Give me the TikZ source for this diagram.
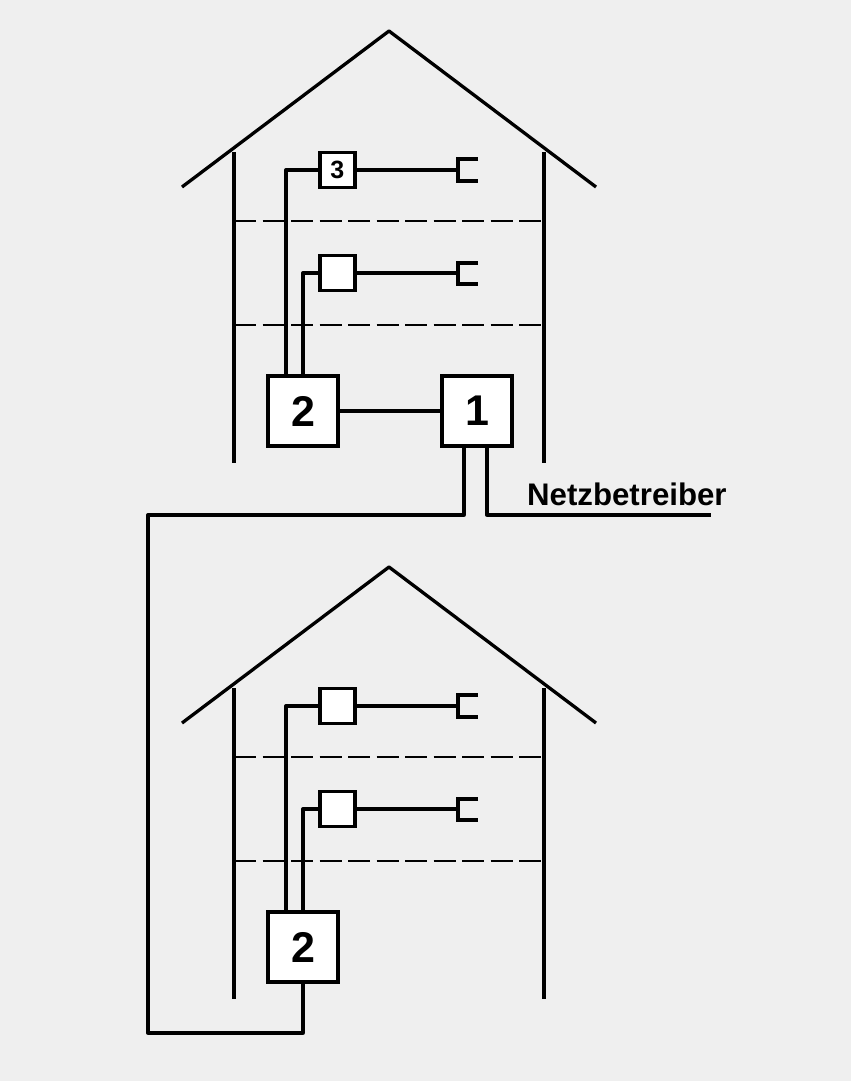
\documentclass[tikz,border=0pt]{standalone}
\usepackage{fontspec}
\setmainfont{Liberation Sans}
\definecolor{bgc}{HTML}{EFEFEF}
\begin{document}
\begin{tikzpicture}[x=1pt,y=-1pt,
  wire/.style={draw=black,line width=3.3pt,line cap=butt,line join=round},
  floorline/.style={draw=black,line width=2.8pt,dash pattern=on 22pt off 6.5pt},
  boxbase/.style={draw=black,fill=white,line width=3.6pt,inner sep=0pt},
  bigbox/.style={boxbase,minimum size=69.5pt,font=\fontsize{43}{43}\selectfont\bfseries},
  smallbox/.style={boxbase,minimum size=35pt,font=\fontsize{25}{25}\selectfont\bfseries},
  label/.style={inner sep=0pt,anchor=base west,font=\fontsize{31.2}{31.2}\selectfont\bfseries}]
\useasboundingbox[fill=bgc] (0,0) rectangle (851,1081);
\foreach \dy in {0,536}{
  \draw[wire] (182,187+\dy) -- (389,31+\dy) -- (596,187+\dy);
  \draw[wire] (234,152+\dy) -- (234,463+\dy);
  \draw[wire] (544,152+\dy) -- (544,463+\dy);
  \draw[floorline] (234,221+\dy) -- (544,221+\dy);
  \draw[floorline] (234,325+\dy) -- (544,325+\dy);
}
\node[bigbox] (amain) at (303,411) {2};
\node[bigbox] (bmain) at (303,947) {2};
\node[bigbox] (hub) at (477,411) {1};
\node[smallbox] (aup) at (337.3,170) {3};
\node[smallbox] (alo) at (337.3,273) {};
\node[smallbox] (bup) at (337.3,706) {};
\node[smallbox] (blo) at (337.3,809) {};
\coordinate (awA) at (286,377);
\coordinate (awB) at (303,377);
\coordinate (bwA) at (286,913);
\coordinate (bwB) at (303,913);
\draw[wire] (awA) |- (aup.west);
\draw[wire] (awB) |- (alo.west);
\draw[wire] (bwA) |- (bup.west);
\draw[wire] (bwB) |- (blo.west);
\draw[wire] (amain) -- (hub);
\foreach \p/\u/\l/\dy in {a/aup/alo/0,b/bup/blo/536}{
  \coordinate (\p Am) at (458,170+\dy);
  \coordinate (\p Bm) at (458,273+\dy);
  \draw[wire] (\u.east) -- (\p Am);
  \draw[wire] (\l.east) -- (\p Bm);
  \draw[wire,line join=miter] (478,159+\dy) -- (458,159+\dy) -- (458,181+\dy) -- (478,181+\dy);
  \draw[wire,line join=miter] (478,263+\dy) -- (458,263+\dy) -- (458,284+\dy) -- (478,284+\dy);
}
\coordinate (hubL) at (464,445);
\coordinate (hubR) at (487,445);
\coordinate (leftTop) at (148,515);
\coordinate (leftBot) at (148,1033);
\coordinate (netEnd) at (711,515);
\draw[wire] (hubL) |- (leftTop) -- (leftBot) -| (bmain.south);
\draw[wire] (hubR) |- (netEnd);
\node[label] (net) at (527,505) {Netzbetreiber};
\end{tikzpicture}
\end{document}
